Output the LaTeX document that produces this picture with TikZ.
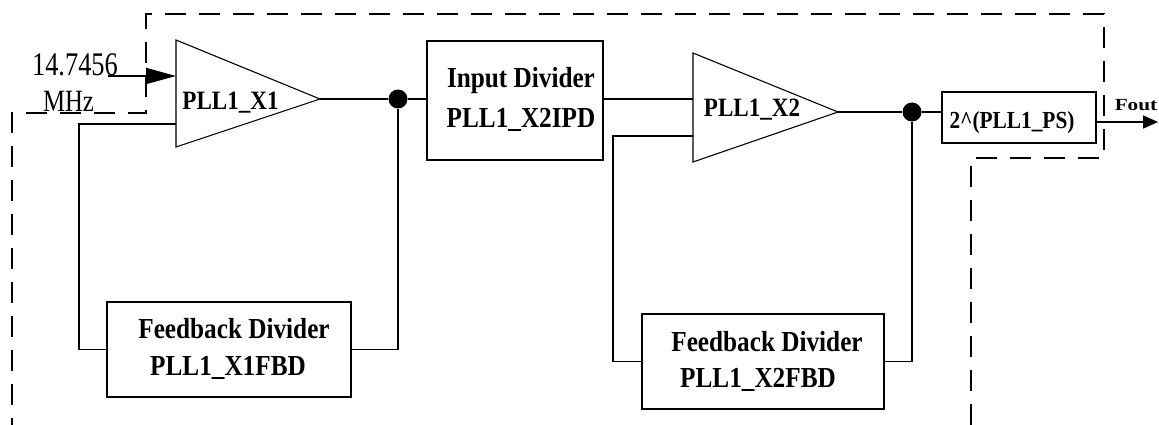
\documentclass[tikz,border=0pt]{standalone}
\usepackage{fontspec}
\setmainfont{Liberation Serif}
\newfontfamily\boxfont[FakeStretch=0.87]{Liberation Serif}
\newfontfamily\inpfont[FakeStretch=0.8]{Liberation Serif}
\newfontfamily\outfont[FakeStretch=1.25]{Liberation Serif}
\usetikzlibrary{arrows.meta}
\begin{document}
\begin{tikzpicture}[x=1pt,y=-1pt,
  wire/.style={line width=1.8pt},
  blk/.style={draw,line width=1.9pt,inner sep=0pt,rectangle},
  amp/.style={draw,line width=1.1pt,line join=miter},
  jdot/.style={circle,fill=black,inner sep=0pt,minimum size=19pt},
  bigtxt/.style={font=\boxfont\fontsize{29}{34}\selectfont\bfseries,anchor=base,inner sep=0pt},
  amptxt/.style={font=\boxfont\fontsize{26.5}{30}\selectfont\bfseries,anchor=base,inner sep=0pt},
  dashline/.style={line width=1.8pt,dash pattern=on 21pt off 13pt}]
\useasboundingbox (0,0) rectangle (1159,425);

% dashed outline
\draw[dashline] (971,425) -- (971,158) -- (1104,158) -- (1104,14) -- (146,14) -- (146,113) -- (12,113) -- (12,425);

% amplifiers
\coordinate (x1a) at (176,76);
\coordinate (x1b) at (176,124);
\coordinate (x1o) at (320,99);
\draw[amp] (176,40) -- (x1o) -- (176,147) -- cycle;
\node[amptxt] (x1t) at (230.5,110) {PLL1\_X1};

\coordinate (x2a) at (693,99);
\coordinate (x2b) at (693,136);
\coordinate (x2o) at (838,112);
\draw[amp] (693,53) -- (x2o) -- (693,162) -- cycle;
\node[amptxt] (x2t) at (752,117) {PLL1\_X2};

% blocks
\node[blk,minimum width=176pt,minimum height=119pt] (idiv) at (515,100.5) {};
\node[bigtxt] (idivt1) at (521,88) {Input Divider};
\node[bigtxt] (idivt2) at (521,128) {PLL1\_X2IPD};

\node[blk,minimum width=244pt,minimum height=95pt] (fb1) at (229,349.5) {};
\node[bigtxt] (fb1t1) at (234,338) {Feedback Divider};
\node[bigtxt] (fb1t2) at (228,375) {PLL1\_X1FBD};

\node[blk,minimum width=242pt,minimum height=95pt] (fb2) at (763,361.5) {};
\node[bigtxt] (fb2t1) at (767,351) {Feedback Divider};
\node[bigtxt] (fb2t2) at (758,387) {PLL1\_X2FBD};

\node[blk,minimum width=154pt,minimum height=51pt] (ps) at (1019,117.5) {};
\node[font=\boxfont\fontsize{24.5}{28}\selectfont\bfseries,anchor=base,inner sep=0pt] (pst) at (1012,129) {2\^{}(PLL1\_PS)};

% junction dots
\node[jdot] (d1) at (398,99) {};
\node[jdot] (d2) at (912,112) {};

% input
\node[font=\inpfont\fontsize{33}{36}\selectfont,anchor=base,inner sep=0pt] (f1) at (75,76) {14.7456};
\node[font=\inpfont\fontsize{31}{36}\selectfont,anchor=base,inner sep=0pt] (f2) at (68.5,112) {MHz};
\coordinate (src) at (108,76);
\draw[wire,-{Triangle[length=30pt,width=16pt]}] (src) -- (x1a);

% connections
\draw[wire] (x1o) -- (d1);
\draw[wire] (d1) -- (d1 -| idiv.west);
\draw[wire] (d1) |- (fb1.east);
\draw[wire] (x1b) -- ++(-97,0) |- (fb1.west);
\draw[wire] (x2a -| idiv.east) -- (x2a);
\draw[wire] (x2b) -- ++(-80,0) |- (fb2.west);
\draw[wire] (x2o) -- (d2);
\draw[wire] (d2) -- (d2 -| ps.west);
\draw[wire] (d2) |- (fb2.east);

% output
\coordinate (fo) at (1158,122);
\draw[wire,-{Triangle[length=15pt,width=13pt]}] (fo -| ps.east) -- (fo);
\node[font=\outfont\fontsize{17}{20}\selectfont\bfseries,anchor=base,inner sep=0pt] (fot) at (1136,111) {Fout};
\end{tikzpicture}
\end{document}
